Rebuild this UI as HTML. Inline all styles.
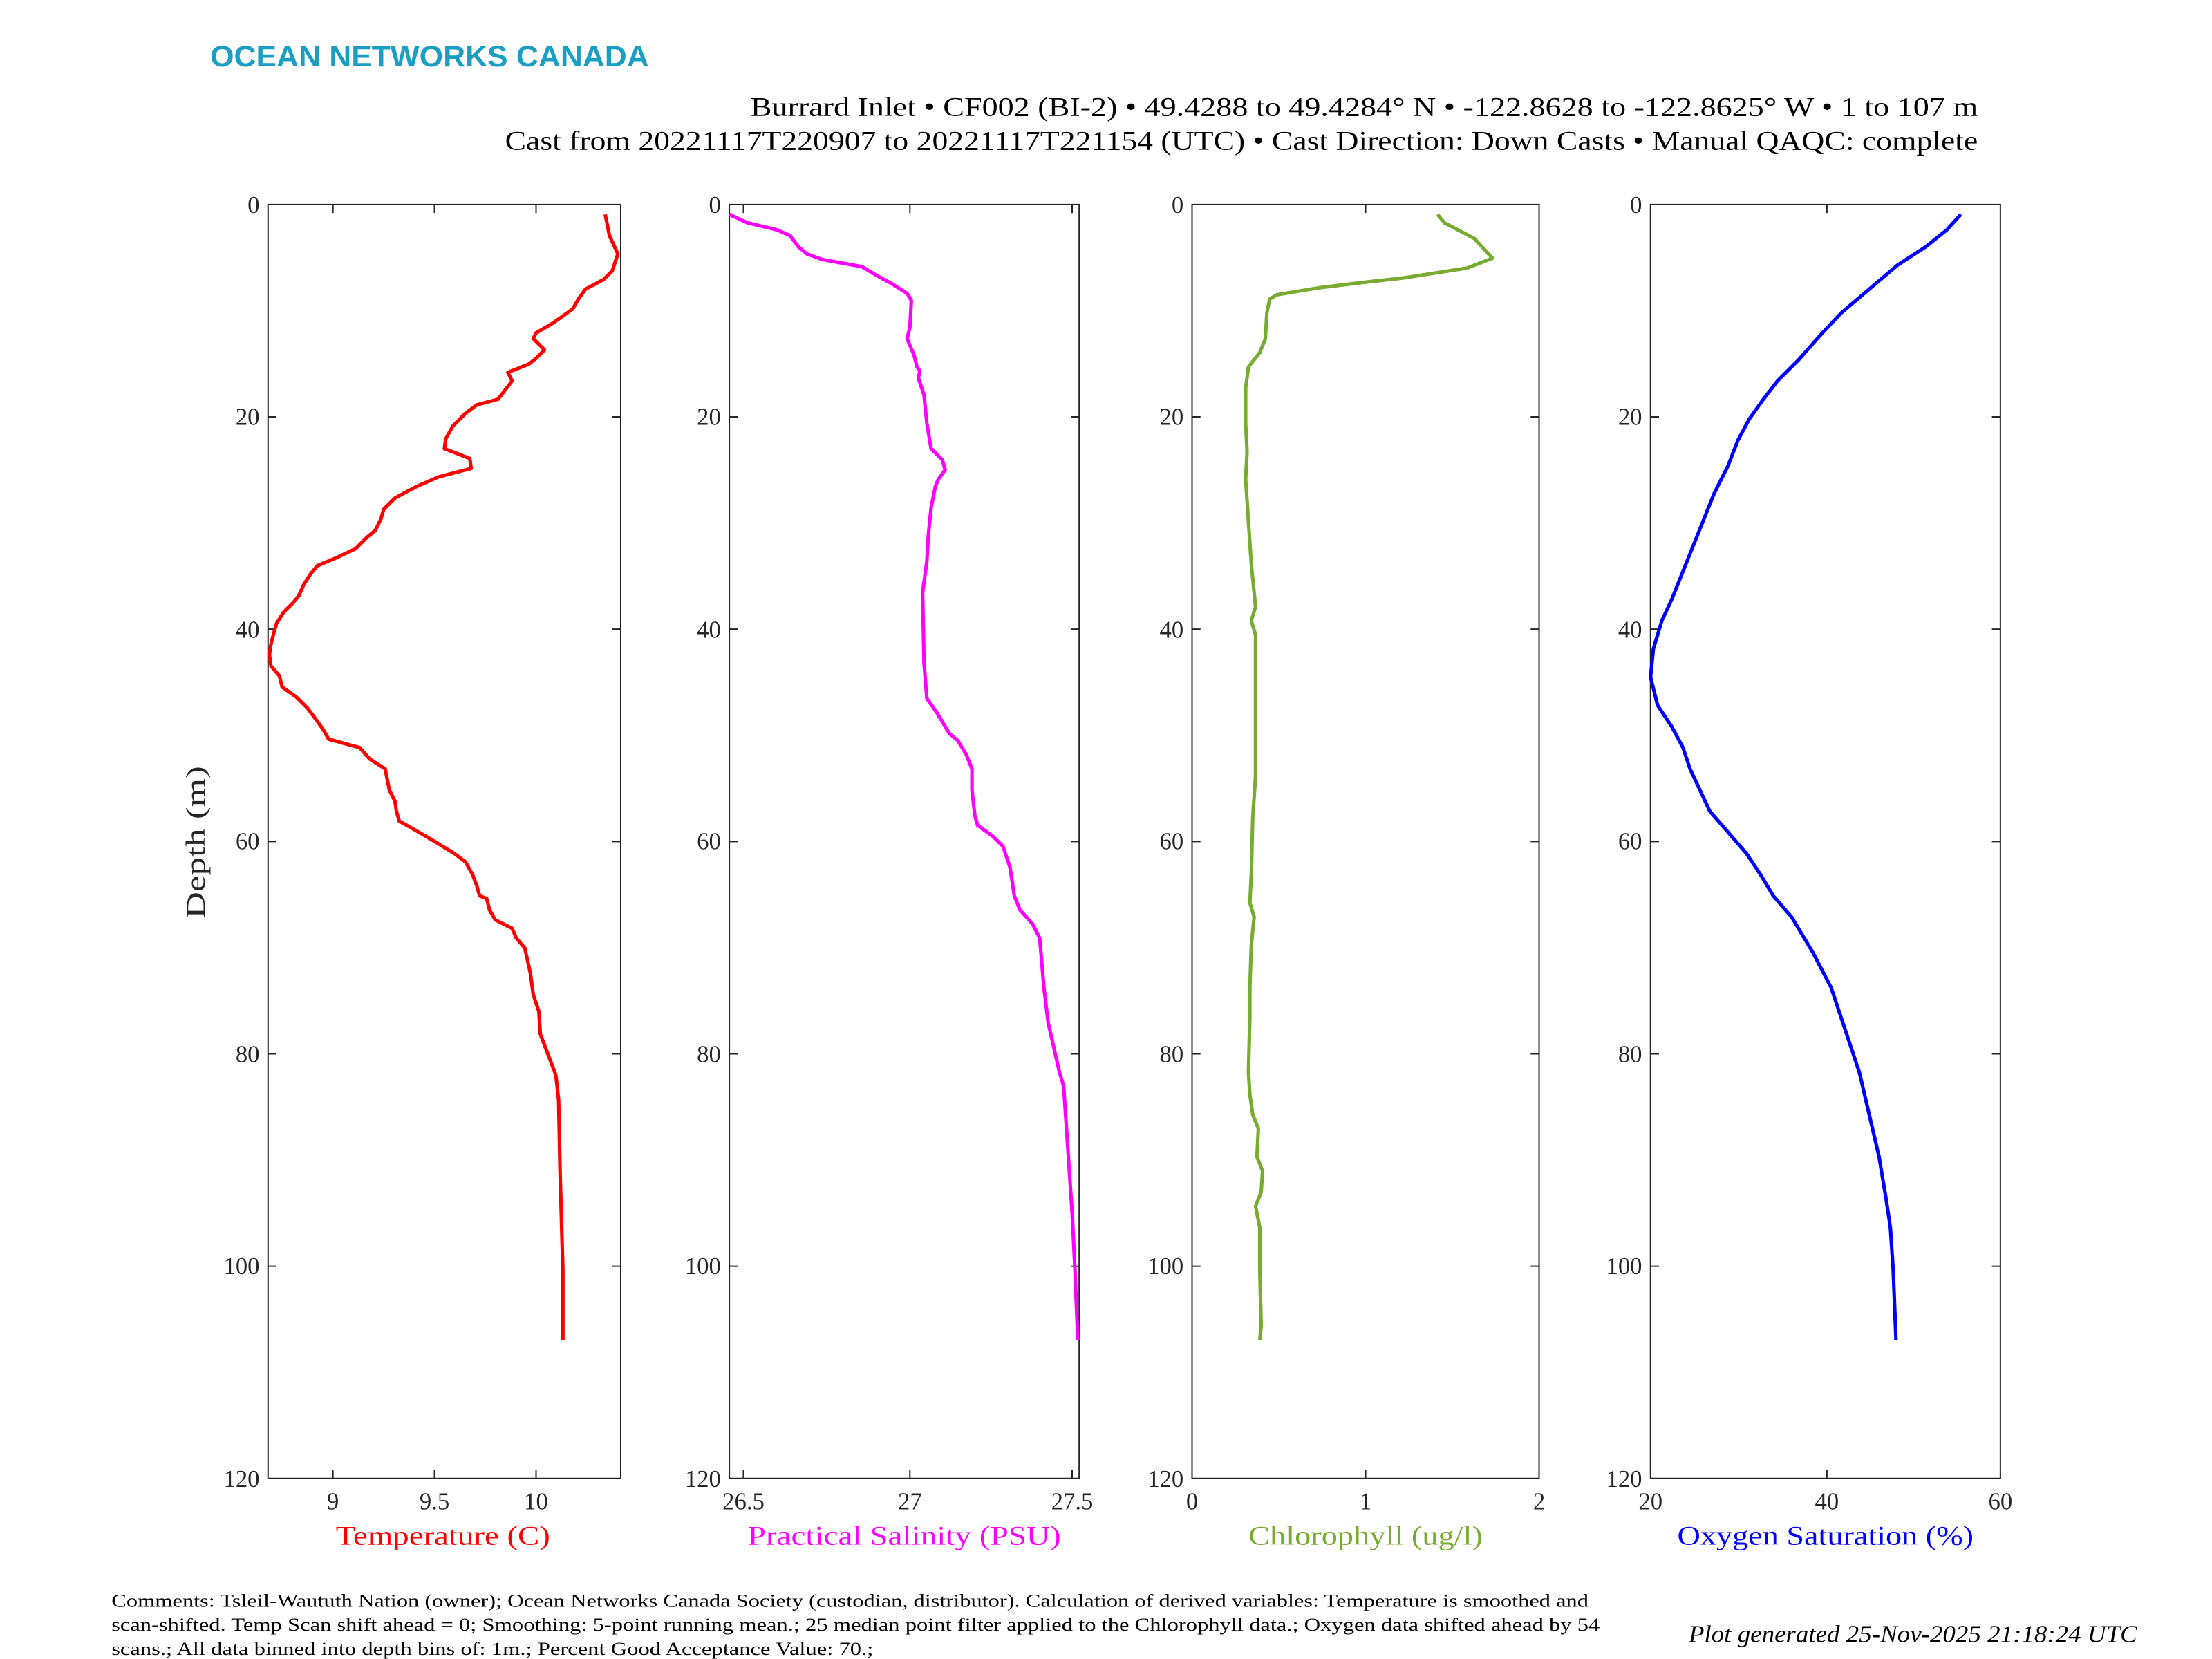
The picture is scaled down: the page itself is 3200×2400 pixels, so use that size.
<!DOCTYPE html>
<html><head><meta charset="utf-8"><style>html,body{margin:0;padding:0;background:#fff}svg{display:block}</style></head>
<body>
<svg width="3200" height="2400" viewBox="0 0 1568 1176" xmlns="http://www.w3.org/2000/svg" font-family="Liberation Serif, serif">
<rect width="1568" height="1176" fill="#fff"/>
<text x="149" y="47" font-family="Liberation Sans, sans-serif" font-weight="bold" font-size="21" fill="#1a9ec4" textLength="311" lengthAdjust="spacingAndGlyphs">OCEAN NETWORKS CANADA</text>
<text x="1402" y="82" text-anchor="end" font-size="19" textLength="870" lengthAdjust="spacingAndGlyphs">Burrard Inlet • CF002 (BI-2) • 49.4288 to 49.4284° N • -122.8628 to -122.8625° W • 1 to 107 m</text>
<text x="1402" y="106" text-anchor="end" font-size="19" textLength="1044" lengthAdjust="spacingAndGlyphs">Cast from 20221117T220907 to 20221117T221154 (UTC) • Cast Direction: Down Casts • Manual QAQC: complete</text>

<g stroke="#262626" stroke-width="1" fill="none">
<rect x="190" y="145" width="250" height="903"/>
<rect x="517" y="145" width="248" height="903"/>
<rect x="845" y="145" width="246" height="903"/>
<rect x="1170" y="145" width="248" height="903"/>
<path d="M190 295.5h6M190 446h6M190 596.5h6M190 747h6M190 897.5h6M440 295.5h-6M440 446h-6M440 596.5h-6M440 747h-6M440 897.5h-6
M517 295.5h6M517 446h6M517 596.5h6M517 747h6M517 897.5h6M765 295.5h-6M765 446h-6M765 596.5h-6M765 747h-6M765 897.5h-6
M845 295.5h6M845 446h6M845 596.5h6M845 747h6M845 897.5h6M1091 295.5h-6M1091 446h-6M1091 596.5h-6M1091 747h-6M1091 897.5h-6
M1170 295.5h6M1170 446h6M1170 596.5h6M1170 747h6M1170 897.5h6M1418 295.5h-6M1418 446h-6M1418 596.5h-6M1418 747h-6M1418 897.5h-6
M236 1048v-6M308 1048v-6M380 1048v-6M236 145v6M308 145v6M380 145v6
M527 1048v-6M645 1048v-6M760 1048v-6M527 145v6M645 145v6M760 145v6
M968 1048v-6M968 145v6
M1295 1048v-6M1295 145v6"/>
</g>
<g font-size="17" fill="#262626" text-anchor="end">
<text x="184" y="151">0</text><text x="184" y="301">20</text><text x="184" y="452">40</text><text x="184" y="602">60</text><text x="184" y="753">80</text><text x="184" y="903">100</text><text x="184" y="1054">120</text>
<text x="511" y="151">0</text><text x="511" y="301">20</text><text x="511" y="452">40</text><text x="511" y="602">60</text><text x="511" y="753">80</text><text x="511" y="903">100</text><text x="511" y="1054">120</text>
<text x="839" y="151">0</text><text x="839" y="301">20</text><text x="839" y="452">40</text><text x="839" y="602">60</text><text x="839" y="753">80</text><text x="839" y="903">100</text><text x="839" y="1054">120</text>
<text x="1164" y="151">0</text><text x="1164" y="301">20</text><text x="1164" y="452">40</text><text x="1164" y="602">60</text><text x="1164" y="753">80</text><text x="1164" y="903">100</text><text x="1164" y="1054">120</text>
</g>
<g font-size="17" fill="#262626" text-anchor="middle">
<text x="236" y="1070">9</text><text x="308" y="1070">9.5</text><text x="380" y="1070">10</text>
<text x="527" y="1070">26.5</text><text x="645" y="1070">27</text><text x="760" y="1070">27.5</text>
<text x="845" y="1070">0</text><text x="968" y="1070">1</text><text x="1091" y="1070">2</text>
<text x="1170" y="1070">20</text><text x="1295" y="1070">40</text><text x="1418" y="1070">60</text>
</g>
<text transform="translate(145,597) rotate(-90)" text-anchor="middle" font-size="19" fill="#262626" textLength="108" lengthAdjust="spacingAndGlyphs">Depth (m)</text>
<g font-size="19" text-anchor="middle">
<text x="314" y="1095" fill="#ff0000" textLength="152" lengthAdjust="spacingAndGlyphs">Temperature (C)</text>
<text x="641" y="1095" fill="#ff00ff" textLength="222" lengthAdjust="spacingAndGlyphs">Practical Salinity (PSU)</text>
<text x="968" y="1095" fill="#77ac30" textLength="166" lengthAdjust="spacingAndGlyphs">Chlorophyll (ug/l)</text>
<text x="1294" y="1095" fill="#0000ff" textLength="210" lengthAdjust="spacingAndGlyphs">Oxygen Saturation (%)</text>
</g>
<g fill="none" stroke-width="2.5" stroke-linejoin="round">
<polyline stroke="#ff0000" points="429,152 432,167 438,180 434,192 428,198 415,205 410,212 406,219 392,229 380,236 378,240 386,248 380,254 375,258 360,264 363,270 360,274 353,283 338,287 330,293 321,302 316,311 315,318 333,325 334,332 311,338 295,345 280,353 272,361 270,368 266,376 260,381 252,389 237,396 225,401 220,407 215,415 212,422 208,427 201,434 196,442 194,449 192,457 191,464 192,472 198,479 200,487 210,494 218,502 224,510 229,517 233,524 255,530 262,538 273,545 276,560 280,568 281,575 283,582 297,590 309,597 322,605 330,611 335,620 338,628 340,635 345,637 347,645 351,652 363,658 366,665 372,672 376,690 378,705 382,717 383,733 394,762 396,780 397,830 399,900 399,950"/>
<polyline stroke="#ff00ff" points="517,152 530,158 551,163 560,167 566,175 572,180 583,184 611,189 621,195 632,201 643,208 646,213 645,232 643,240 648,252 650,260 652,263 651,268 655,280 657,300 660,318 668,326 670,333 665,340 663,345 660,360 658,380 657,398 654,420 655,470 657,495 664,505 673,520 679,525 685,535 689,545 689,560 691,578 693,585 704,593 711,600 716,615 719,635 723,645 732,655 737,665 740,700 743,725 751,760 754,770 756,800 760,860 762,900 764,950"/>
<polyline stroke="#77ac30" points="1019,152 1024,158 1045,169 1058,183 1040,190 995,197 968,200 935,204 905,209 900,212 898,222 897,240 893,250 885,260 883,275 883,300 884,320 883,340 885,370 887,400 890,430 887,440 890,450 890,500 890,550 888,580 887,620 886,640 889,650 887,670 886,700 886,720 885,760 886,776 888,790 892,800 891,820 895,830 894,845 890,855 893,870 893,900 894,940 893,950"/>
<polyline stroke="#0000ff" points="1390,152 1380,163 1365,175 1345,188 1325,205 1305,222 1290,238 1275,255 1260,270 1250,283 1240,297 1232,312 1225,330 1215,350 1205,375 1195,400 1185,425 1178,440 1172,460 1170,480 1175,500 1185,515 1193,530 1198,545 1205,560 1212,575 1225,590 1238,605 1248,620 1257,635 1270,650 1285,675 1298,700 1308,730 1318,760 1325,790 1332,820 1337,850 1340,870 1342,900 1344,950"/>
</g>
<g font-size="13" fill="#000">
<text x="79" y="1139" textLength="1047" lengthAdjust="spacingAndGlyphs">Comments: Tsleil-Waututh Nation (owner); Ocean Networks Canada Society (custodian, distributor). Calculation of derived variables: Temperature is smoothed and</text>
<text x="79" y="1156" textLength="1055" lengthAdjust="spacingAndGlyphs">scan-shifted. Temp Scan shift ahead = 0; Smoothing: 5-point running mean.; 25 median point filter applied to the Chlorophyll data.; Oxygen data shifted ahead by 54</text>
<text x="79" y="1173" textLength="540" lengthAdjust="spacingAndGlyphs">scans.; All data binned into depth bins of: 1m.; Percent Good Acceptance Value: 70.;</text>
</g>
<text x="1515" y="1164" text-anchor="end" font-size="17" font-style="italic" textLength="318" lengthAdjust="spacingAndGlyphs">Plot generated 25-Nov-2025 21:18:24 UTC</text>
</svg>
</body></html>
